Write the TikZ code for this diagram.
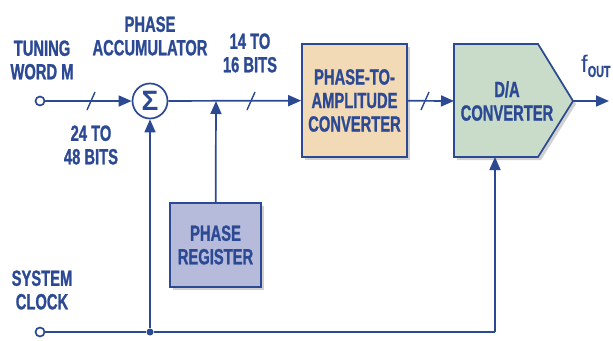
\documentclass[tikz,border=0pt]{standalone}
\usepackage{fontspec}
\setmainfont[FakeStretch=0.67, BoldFeatures={FakeBold=1.1}]{Liberation Sans}
\newfontfamily\sigfont{Liberation Sans}
\usetikzlibrary{arrows.meta,shadows}
\definecolor{adblue}{HTML}{2C4A94}
\definecolor{peach}{HTML}{F3DAB6}
\definecolor{sage}{HTML}{C9DBC9}
\definecolor{lav}{HTML}{B6BBDC}
\begin{document}
\begin{tikzpicture}[x=1pt,y=-1pt,
  lbl/.style={text=adblue, font=\fontsize{22}{23.5}\selectfont\bfseries, align=center, inner sep=0},
  wire/.style={draw=adblue, line width=1.7pt},
  arr/.style={wire, -{Triangle[length=13pt,width=11pt]}},
  shad/.style={drop shadow={shadow xshift=3pt, shadow yshift=-3pt, opacity=0.18, fill=black}},
  blockbox/.style={draw=adblue, line width=1.7pt, inner sep=0, shad},
  term/.style={circle, draw=adblue, line width=1.7pt, fill=white, minimum size=9pt, inner sep=0},
  slashmark/.style={draw=adblue, line width=1.4pt}]
\useasboundingbox (0,0) rectangle (613,340);

% nodes
\node[term] (tw) at (40,101) {};
\node[term] (clk) at (40,332) {};
\node[circle, draw=adblue, line width=1.7pt, fill=white, minimum size=35pt, inner sep=0,
      text=adblue, font=\sigfont\fontsize{28}{28}\selectfont\bfseries] (sig) at (150,101) {Σ};
\coordinate (j1) at (216,101);
\node[blockbox, fill=peach, minimum width=105pt, minimum height=113pt] (p2a) at (354.5,100.5) {};
\node[lbl] at (p2a.center) {PHASE-TO-\\AMPLITUDE\\CONVERTER};
\node[blockbox, fill=lav, minimum width=91pt, minimum height=84pt] (phreg) at (215.5,245) {};
\node[lbl] at (phreg.center) {PHASE\\REGISTER};

% D/A converter pentagon
\path[draw=adblue, line width=1.7pt, fill=sage, shad, line join=miter]
  (454,44) -- (538,44) -- (573,101) -- (538,157) -- (454,157) -- cycle;
\coordinate (daw) at (454,101);
\coordinate (datip) at (573,101);
\coordinate (das) at (495,157);
\node[lbl] (da) at (507,101) {D/A\\CONVERTER};

\node[circle, fill=adblue, minimum size=7pt, inner sep=0] (dot) at (150,332) {};
\coordinate (corner) at (495,332);
\coordinate (outend) at (609,101);

% connectors
\draw[arr] (tw) -- (sig);
\draw[arr] (sig) -- (p2a);
\draw[arr] (phreg) -- (j1);
\draw[arr] (p2a) -- (daw);
\draw[arr] (datip) -- (outend);
\draw[wire] (clk) -- (dot) -- (corner);
\draw[arr] (dot) -- (sig);
\draw[arr] (corner) -- (das);

% bus width slashes
\draw[slashmark] (87,110) -- (95,92);
\draw[slashmark] (247,110) -- (255,92);
\draw[slashmark] (421,110) -- (429,92);

% labels
\node[lbl] at (42,60) {TUNING\\WORD M};
\node[lbl] at (150,36) {PHASE\\ACCUMULATOR};
\node[lbl] at (91,145) {24 TO\\48 BITS};
\node[lbl] at (250,53) {14 TO\\16 BITS};
\node[lbl] at (42,290) {SYSTEM\\CLOCK};
\node[text=adblue, inner sep=0, anchor=base west] at (581,72)
  {{\sigfont\fontsize{24}{24}\selectfont f}\raisebox{-5pt}{\fontsize{16}{16}\selectfont\bfseries OUT}};
\end{tikzpicture}
\end{document}
